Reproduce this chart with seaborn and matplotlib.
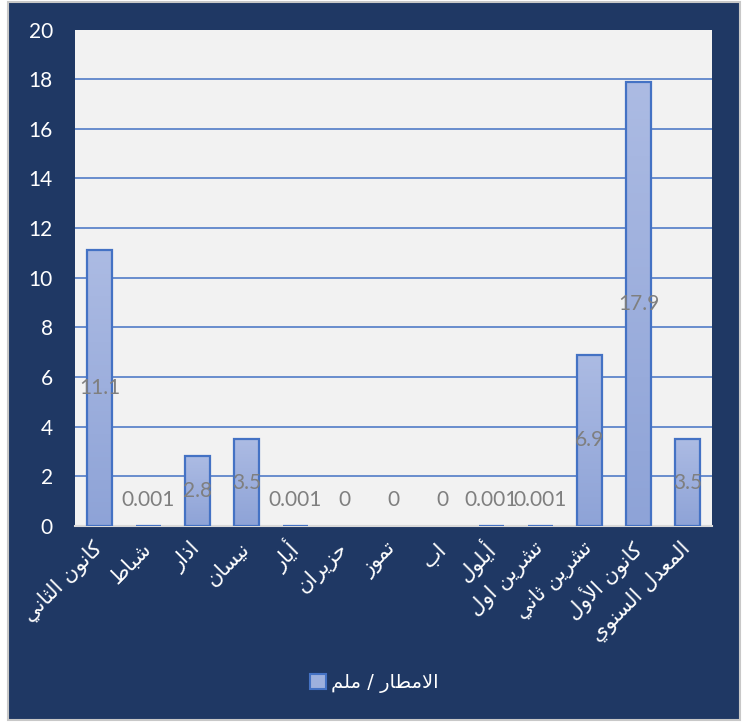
import numpy as np
import pandas as pd
import matplotlib
matplotlib.use("Agg")
import matplotlib.pyplot as plt
import seaborn as sns
from matplotlib.patches import Patch, Rectangle
from matplotlib.colors import LinearSegmentedColormap

OUTPUT_FILE = "out.png"

# data
months = ["كانون الثاني", "شباط", "اذار", "نيسان", "أيار", "حزيران", "تموز",
          "اب", "أيلول", "تشرين اول", "تشرين ثاني", "كانون الأول", "المعدل السنوي"]
rain_mm = [11.1, 0.001, 2.8, 3.5, 0.001, 0, 0, 0, 0.001, 0.001, 6.9, 17.9, 3.5]
value_labels = ["11.1", "0.001", "2.8", "3.5", "0.001", "0", "0", "0",
                "0.001", "0.001", "6.9", "17.9", "3.5"]
series_name = "الامطار / ملم"
y_ticks = list(range(0, 21, 2))

NAVY = "#1F3864"
BLUE = "#4472C4"

# matplotlib has no Arabic shaping, so map letters to presentation forms
# (isolated, final, initial, medial)
AR = {
    "ا": ("\uFE8D", "\uFE8E", None, None),
    "أ": ("\uFE83", "\uFE84", None, None),
    "ب": ("\uFE8F", "\uFE90", "\uFE91", "\uFE92"),
    "ت": ("\uFE95", "\uFE96", "\uFE97", "\uFE98"),
    "ث": ("\uFE99", "\uFE9A", "\uFE9B", "\uFE9C"),
    "ح": ("\uFEA1", "\uFEA2", "\uFEA3", "\uFEA4"),
    "د": ("\uFEA9", "\uFEAA", None, None),
    "ذ": ("\uFEAB", "\uFEAC", None, None),
    "ر": ("\uFEAD", "\uFEAE", None, None),
    "ز": ("\uFEAF", "\uFEB0", None, None),
    "س": ("\uFEB1", "\uFEB2", "\uFEB3", "\uFEB4"),
    "ش": ("\uFEB5", "\uFEB6", "\uFEB7", "\uFEB8"),
    "ط": ("\uFEC1", "\uFEC2", "\uFEC3", "\uFEC4"),
    "ع": ("\uFEC9", "\uFECA", "\uFECB", "\uFECC"),
    "ك": ("\uFED9", "\uFEDA", "\uFEDB", "\uFEDC"),
    "ل": ("\uFEDD", "\uFEDE", "\uFEDF", "\uFEE0"),
    "م": ("\uFEE1", "\uFEE2", "\uFEE3", "\uFEE4"),
    "ن": ("\uFEE5", "\uFEE6", "\uFEE7", "\uFEE8"),
    "و": ("\uFEED", "\uFEEE", None, None),
    "ي": ("\uFEF1", "\uFEF2", "\uFEF3", "\uFEF4"),
}
LAM_ALEF = {"ا": ("\uFEFB", "\uFEFC"), "أ": ("\uFEF7", "\uFEF8")}


def joins_next(c):
    return c in AR and AR[c][2] is not None


def shape_ar(text):
    out = []
    i, n = 0, len(text)
    while i < n:
        c = text[i]
        if c not in AR:
            out.append(c)
            i += 1
            continue
        link_prev = i > 0 and joins_next(text[i - 1])
        if c == "ل" and i + 1 < n and text[i + 1] in LAM_ALEF:
            iso, fin = LAM_ALEF[text[i + 1]]
            out.append(fin if link_prev else iso)
            i += 2
            continue
        nxt = text[i + 1] if i + 1 < n else ""
        link_next = joins_next(c) and nxt in AR
        iso, fin, ini, med = AR[c]
        if link_prev and link_next:
            out.append(med)
        elif link_prev:
            out.append(fin)
        elif link_next:
            out.append(ini)
        else:
            out.append(iso)
        i += 1
    # right-to-left: reverse into visual order
    return "".join(reversed(out))


def main():
    df = pd.DataFrame({"month": months, "rain": rain_mm, "label": value_labels})

    sns.set_style("white")
    plt.rcParams["font.family"] = ["Lato", "DejaVu Sans"]

    fig = plt.figure(figsize=(7.49, 7.22), dpi=100, facecolor="white")
    fig.patches.append(Rectangle((8 / 749, 2 / 722), 732 / 749, 718 / 722,
                                 transform=fig.transFigure, facecolor=NAVY,
                                 edgecolor="#C8C8C8", lw=1.5, zorder=-10))
    ax = fig.add_axes([75 / 749, 1 - 526 / 722, 637 / 749, 496.5 / 722])
    ax.set_facecolor("#F2F2F2")

    sns.barplot(data=df, x="month", y="rain", ax=ax, width=0.5,
                color="#9DB0DD", edgecolor=BLUE, linewidth=1.6, zorder=3)

    # vertical gradient fill like the Excel bars
    cmap = LinearSegmentedColormap.from_list("bar", ["#8EA3D7", "#ACBBE3"])
    grad = np.linspace(0, 1, 256).reshape(-1, 1)
    for patch in ax.patches:
        h = patch.get_height()
        if h <= 0:
            patch.set_edgecolor("none")
            continue
        x0 = patch.get_x()
        w = patch.get_width()
        patch.set_facecolor("none")
        im = ax.imshow(grad, extent=[x0, x0 + w, 0, h], origin="lower",
                       cmap=cmap, aspect="auto", zorder=2.9)
        im.set_clip_path(patch)

    ax.set_xlim(-0.5, len(months) - 0.5)
    ax.set_ylim(0, 20)
    ax.set_yticks(y_ticks)
    ax.yaxis.grid(True, color=BLUE, lw=1.1, zorder=1)
    ax.set_axisbelow(True)
    for side in ["top", "left", "right"]:
        ax.spines[side].set_visible(False)
    ax.spines["bottom"].set_color("#D9D9D9")
    ax.spines["bottom"].set_linewidth(1.5)
    ax.spines["bottom"].set_zorder(2.5)

    ax.tick_params(axis="y", length=0, colors="white", labelsize=15, pad=16)
    ax.tick_params(axis="x", length=0, colors="white", pad=14)
    ax.set_xticks(range(len(months)))
    ax.set_xticklabels([shape_ar(m) for m in months], rotation=45,
                       ha="right", va="center", rotation_mode="anchor",
                       fontsize=15, family="DejaVu Sans")
    ax.set_xlabel("")
    ax.set_ylabel("")

    # data labels: centre of bar, but never closer than ~1 unit to the axis
    for i, (v, lab) in enumerate(zip(df["rain"], df["label"])):
        ax.text(i, max(v / 2, 1.05), lab, ha="center", va="center",
                color="#7F7F7F", fontsize=15, zorder=5)

    handle = Patch(facecolor="#9DB0DD", edgecolor=BLUE, lw=1.5)
    fig.legend([handle], [shape_ar(series_name)], loc="center",
               bbox_to_anchor=(0.5, 1 - 683 / 722), frameon=False,
               labelcolor="white", handlelength=0.8,
               handleheight=0.8, handletextpad=0.3,
               prop={"family": "DejaVu Sans", "size": 14})

    fig.savefig(OUTPUT_FILE, dpi=100, facecolor=fig.get_facecolor())
    plt.close(fig)


if __name__ == "__main__":
    main()
